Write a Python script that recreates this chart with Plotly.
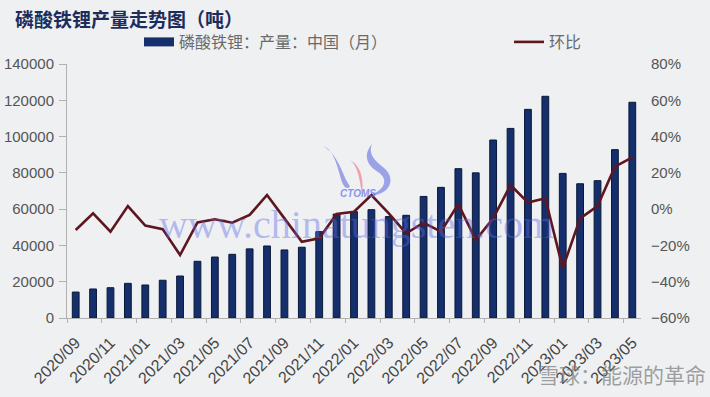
import plotly.graph_objects as go

months = ["2020/09", "2020/10", "2020/11", "2020/12", "2021/01", "2021/02", "2021/03", "2021/04",
          "2021/05", "2021/06", "2021/07", "2021/08", "2021/09", "2021/10", "2021/11", "2021/12",
          "2022/01", "2022/02", "2022/03", "2022/04", "2022/05", "2022/06", "2022/07", "2022/08",
          "2022/09", "2022/10", "2022/11", "2022/12", "2023/01", "2023/02", "2023/03", "2023/04",
          "2023/05"]
production = [14300, 16000, 16700, 19100, 18200, 20800, 23150, 31250, 33600, 35100, 38100, 39700,
              37500, 39000, 47600, 57300, 58600, 59700, 55900, 56600, 67000, 72000, 82300, 80000,
              98100, 104500, 115000, 122200, 79700, 74000, 75700, 92800, 118900]
mom = [-11.5, -2.3, -12.4, 1.7, -9.1, -11.0, -25.3, -7.3, -5.6, -7.5, -3.2, 7.8, -5.1, -18.0,
       -16.1, -2.7, -1.4, 7.8, -2.3, -13.3, -7.5, -12.4, 2.8, -17.0, -5.1, 13.3, 3.6, 6.0, -32.6,
       -5.1, 1.7, 23.4, 28.5]
left_ticks = [0, 20000, 40000, 60000, 80000, 100000, 120000, 140000]
right_ticks = [-0.6, -0.4, -0.2, 0, 0.2, 0.4, 0.6, 0.8]
bar_name = "磷酸铁锂：产量：中国（月）"
line_name = "环比"

idx = list(range(len(months)))
mom_frac = [v / 100 for v in mom]

W, H = 710, 397
L, R, T, B = 67, 69, 64, 79
PW, PH = W - L - R, H - T - B
bg = "#eef0f2"
navy = "#142f6b"
maroon = "#5e1620"


def px(x):
    return (x - L) / PW


def py(y):
    return (H - B - y) / PH


fig = go.Figure()
fig.add_trace(go.Bar(
    x=idx, y=production, name=bar_name, showlegend=False,
    marker=dict(color=navy, line=dict(color="#0a1838", width=1)), yaxis="y"))
fig.add_trace(go.Scatter(
    x=idx, y=mom_frac, name=line_name, mode="lines", legend="legend2",
    line=dict(color=maroon, width=2.6), yaxis="y2"))
# legend entry for the bars drawn as a wide swatch (no data points)
fig.add_trace(go.Scatter(
    x=[None], y=[None], name=bar_name, mode="lines", legend="legend",
    line=dict(color=navy, width=9), yaxis="y"))

tickfont = dict(family="Liberation Sans, DejaVu Sans, sans-serif", size=15, color="#555555")
legfont = dict(family="Noto Sans CJK SC", size=16, color="#6a6a6a")
fig.update_layout(
    width=W, height=H,
    margin=dict(l=L, r=R, t=T, b=B),
    paper_bgcolor=bg, plot_bgcolor=bg,
    bargap=0.61,
    showlegend=True,
    legend=dict(orientation="h", x=139 / W, y=1 - 42 / H, xref="container", yref="container",
                xanchor="left", yanchor="middle", font=legfont, bgcolor="rgba(0,0,0,0)"),
    legend2=dict(orientation="h", x=509 / W, y=1 - 42 / H, xref="container", yref="container",
                 xanchor="left", yanchor="middle", font=legfont, bgcolor="rgba(0,0,0,0)"),
    xaxis=dict(range=[-0.5, len(months) - 0.5], tickvals=idx[::2], ticktext=months[::2],
               tickangle=-45, ticks="", showline=True, linecolor="#b0b0b0", linewidth=1,
               showgrid=False, zeroline=False, automargin=False, ticklabelstandoff=8,
               tickfont=dict(family="Liberation Sans, DejaVu Sans, sans-serif", size=16, color="#444444"),
               minor=dict(ticks="outside", tick0=-0.5, dtick=2, ticklen=4, tickcolor="#b0b0b0", showgrid=False)),
    yaxis=dict(range=[0, 140000], tickvals=left_ticks, tickformat="d", showline=True,
               linecolor="#b0b0b0", ticks="outside", ticklen=7, tickcolor="#b0b0b0",
               showgrid=False, zeroline=False, automargin=False, ticklabelstandoff=2,
               tickfont=tickfont),
    yaxis2=dict(range=[-0.6, 0.8], tickvals=right_ticks, tickformat=".0%", overlaying="y",
                side="right", showline=False, showgrid=False, zeroline=False, ticks="",
                automargin=False, ticklabelstandoff=9, tickfont=tickfont),
)
fig.add_annotation(text="<b>磷酸铁锂产量走势图（吨）</b>", xref="paper", yref="paper",
                   x=px(13), y=py(18), xanchor="left", yanchor="middle", showarrow=False,
                   font=dict(family="Noto Sans CJK SC", size=19, color="#1c2d5c"))
# watermarks
fig.add_annotation(text="www.chinatungsten.com", xref="paper", yref="paper",
                   x=px(356), y=py(224), xanchor="center", yanchor="middle", showarrow=False,
                   font=dict(family="Liberation Serif", size=40, color="rgba(95,105,230,0.42)"))
fig.add_annotation(text="<b><i>CTOMS</i></b>", xref="paper", yref="paper",
                   x=px(358), y=py(193), showarrow=False,
                   font=dict(family="Liberation Sans", size=10, color="rgba(95,105,230,0.7)"))


def logo_path(start, curves):
    s = "M %.4f %.4f" % (px(start[0]), py(start[1]))
    for c in curves:
        s += " C " + " ".join("%.4f %.4f" % (px(a), py(b)) for a, b in c)
    return s + " Z"


logo = [
    ((323, 146), [[(335, 150), (338, 170), (342, 182)], [(344, 188), (348, 190), (350, 186)],
                  [(342, 176), (340, 156), (323, 146)]], "rgba(110,120,225,0.65)"),
    ((350, 160), [[(356, 164), (360, 176), (362, 196)], [(364, 182), (362, 166), (350, 160)]],
     "rgba(240,120,130,0.65)"),
    ((372, 144), [[(362, 156), (368, 166), (378, 172)], [(390, 180), (384, 192), (366, 196)],
                  [(392, 196), (396, 178), (384, 168)], [(374, 160), (368, 154), (372, 144)]],
     "rgba(110,120,225,0.65)"),
]
for start, curves, col in logo:
    fig.add_shape(type="path", path=logo_path(start, curves), xref="paper", yref="paper",
                  fillcolor=col, line=dict(width=0), layer="below")
fig.add_annotation(text="雪球：能源的革命", xref="paper", yref="paper",
                   x=px(708), y=py(374), xanchor="right", yanchor="middle", showarrow=False,
                   font=dict(family="Noto Sans CJK SC", size=21, color="rgba(130,130,130,0.75)"))
fig.write_html("out.html", config={"displayModeBar": False},
               post_script="document.body.style.margin='0';")
